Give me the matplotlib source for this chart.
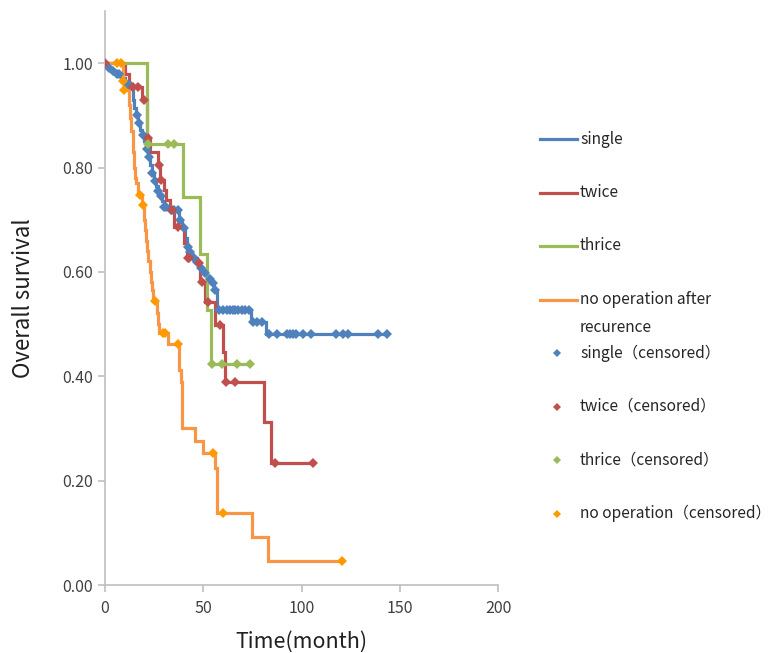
import numpy as np
import matplotlib
matplotlib.use("Agg")
import matplotlib.pyplot as plt
from matplotlib.lines import Line2D

plt.rcParams['font.family'] = ['Noto Sans CJK JP', 'DejaVu Sans']

# Kaplan-Meier steps: (event time in months, survival after the event)
single_t = [0, 1.5, 3, 5, 8, 10, 11, 13, 14, 15, 16, 17, 18, 19, 20, 21, 22, 23, 24, 25,
            26, 27, 28, 29, 30, 33, 37.5, 39, 40.5, 41.5, 43, 44.5, 46, 48, 50, 52, 54,
            55.5, 57, 74.5, 82]
single_s = [1.0, 0.99, 0.985, 0.98, 0.972, 0.965, 0.958, 0.95, 0.93, 0.915, 0.90, 0.885,
            0.872, 0.862, 0.85, 0.835, 0.82, 0.805, 0.79, 0.775, 0.765, 0.755, 0.745, 0.735,
            0.725, 0.718, 0.70, 0.684, 0.665, 0.647, 0.638, 0.628, 0.619, 0.607, 0.597,
            0.587, 0.578, 0.565, 0.527, 0.504, 0.481]
single_c = [2, 4, 6, 7, 11.5, 12.5, 16.5, 17.5, 19.5, 21.5, 22.5, 24, 25.5, 27, 28.5, 30,
            31, 33.5, 35, 37, 38, 40, 42, 43.5, 45, 47, 49, 51, 53.5, 55, 56, 58, 60.2, 62,
            63.7, 65, 66.3, 67.8, 69.6, 71, 73.4, 75.5, 77.4, 80, 83.5, 87.6, 92.7, 94,
            95.6, 97, 100.8, 105, 117.5, 121, 123.8, 139, 143.5]

twice_t = [0, 10, 12, 19, 21.5, 23, 27, 28, 30, 31, 33, 35, 40, 41.5, 47, 48.5, 51, 56,
           60, 61, 81, 84.5]
twice_s = [1.0, 0.98, 0.954, 0.93, 0.856, 0.83, 0.805, 0.776, 0.757, 0.738, 0.718, 0.686,
           0.655, 0.626, 0.617, 0.58, 0.542, 0.498, 0.446, 0.389, 0.312, 0.234]
twice_c = [0, 14.5, 17, 20, 22, 27.5, 28.5, 34, 37, 42, 43, 48, 49.5, 52.5, 58.5, 61.7,
           66.3, 86.5, 106]

thrice_t = [0, 21.5, 39.5, 48.5, 52, 54]
thrice_s = [1.0, 0.845, 0.743, 0.634, 0.527, 0.423]
thrice_c = [22, 32, 35, 54.5, 59.6, 67.3, 74]

noop_t = [0, 9, 9.6, 12, 12.5, 13, 14, 14.5, 15, 15.5, 16, 17, 19, 20, 20.5, 21, 21.5, 22,
          23, 23.5, 24, 24.5, 26.5, 27, 27.5, 32, 37.8, 38.5, 39.3, 46, 50, 56, 57, 75, 83]
noop_s = [1.0, 0.965, 0.948, 0.92, 0.895, 0.87, 0.85, 0.83, 0.80, 0.78, 0.77, 0.747, 0.728,
          0.70, 0.68, 0.66, 0.64, 0.62, 0.60, 0.58, 0.565, 0.544, 0.521, 0.50, 0.483, 0.461,
          0.412, 0.389, 0.30, 0.276, 0.253, 0.224, 0.138, 0.092, 0.046]
noop_c = [6, 8, 9.3, 9.8, 18, 19.5, 25.2, 29.5, 30.5, 37.3, 55, 60, 120.7]

series = [
    ("single", single_t, single_s, single_c, "#4F81BD", "#4F81BD"),
    ("twice", twice_t, twice_s, twice_c, "#C0504D", "#C0504D"),
    ("thrice", thrice_t, thrice_s, thrice_c, "#9BBB59", "#9BBB59"),
    ("no operation after\nrecurence", noop_t, noop_s, noop_c, "#F79646", "#FF9900"),
]
censor_labels = ["single（censored）", "twice（censored）", "thrice（censored）",
                 "no operation（censored）"]

fig = plt.figure(figsize=(7.74, 6.53), dpi=100)
ax = fig.add_axes([105 / 774, 68 / 653, 393 / 774, 574 / 653])

for name, t, s, c, lc, mc in series:
    end = max(max(c), max(t))
    ax.step(list(t) + [end], list(s) + [s[-1]], where='post', color=lc, lw=2.3,
            solid_joinstyle='miter', zorder=2)

for name, t, s, c, lc, mc in series:
    idx = np.searchsorted(t, c, side='right') - 1
    ax.plot(c, np.array(s)[idx], linestyle='none', marker='D', ms=4.6, color=mc,
            markeredgewidth=0, zorder=3)

ax.set_xlim(0, 200)
ax.set_ylim(0, 1.1)
ax.set_xticks([0, 50, 100, 150, 200])
ax.set_yticks([0, 0.2, 0.4, 0.6, 0.8, 1.0])
ax.set_yticklabels([f"{v:.2f}" for v in [0, 0.2, 0.4, 0.6, 0.8, 1.0]])
for sp in ['top', 'right']:
    ax.spines[sp].set_visible(False)
for sp in ['left', 'bottom']:
    ax.spines[sp].set_color('#BFBFBF')
    ax.spines[sp].set_linewidth(1.2)
ax.tick_params(axis='both', direction='out', length=5, color='#BFBFBF', width=1.2,
               labelsize=11.5, labelcolor='#404040')
ax.tick_params(axis='x', pad=6)
ax.set_xlabel("Time(month)", fontsize=15.5, color='#202020', labelpad=10)
ax.set_ylabel("Overall survival", fontsize=16, color='#202020', labelpad=20)

# legend, drawn to match the spreadsheet layout
leg_y0 = 139
step_px = 53.5
for i, (name, t, s, c, lc, mc) in enumerate(series):
    y = 1 - (leg_y0 + i * step_px) / 653
    fig.add_artist(Line2D([540 / 774, 577 / 774], [y, y], color=lc, lw=2.3,
                          transform=fig.transFigure))
    lines = name.split("\n")
    for j, ln in enumerate(lines):
        fig.text(580 / 774, y - j * 28 / 653, ln, fontsize=11.2, va='center',
                 ha='left', color='#262626')
for i, (lab, ser) in enumerate(zip(censor_labels, series)):
    y = 1 - (leg_y0 + (i + 4) * step_px) / 653
    fig.add_artist(Line2D([557 / 774], [y], marker='D', ms=3.6, color=ser[5],
                          markeredgewidth=0, linestyle='none',
                          transform=fig.transFigure))
    fig.text(580 / 774, y, lab, fontsize=11.2, va='center', ha='left', color='#262626')

fig.savefig("out.png", dpi=100)
